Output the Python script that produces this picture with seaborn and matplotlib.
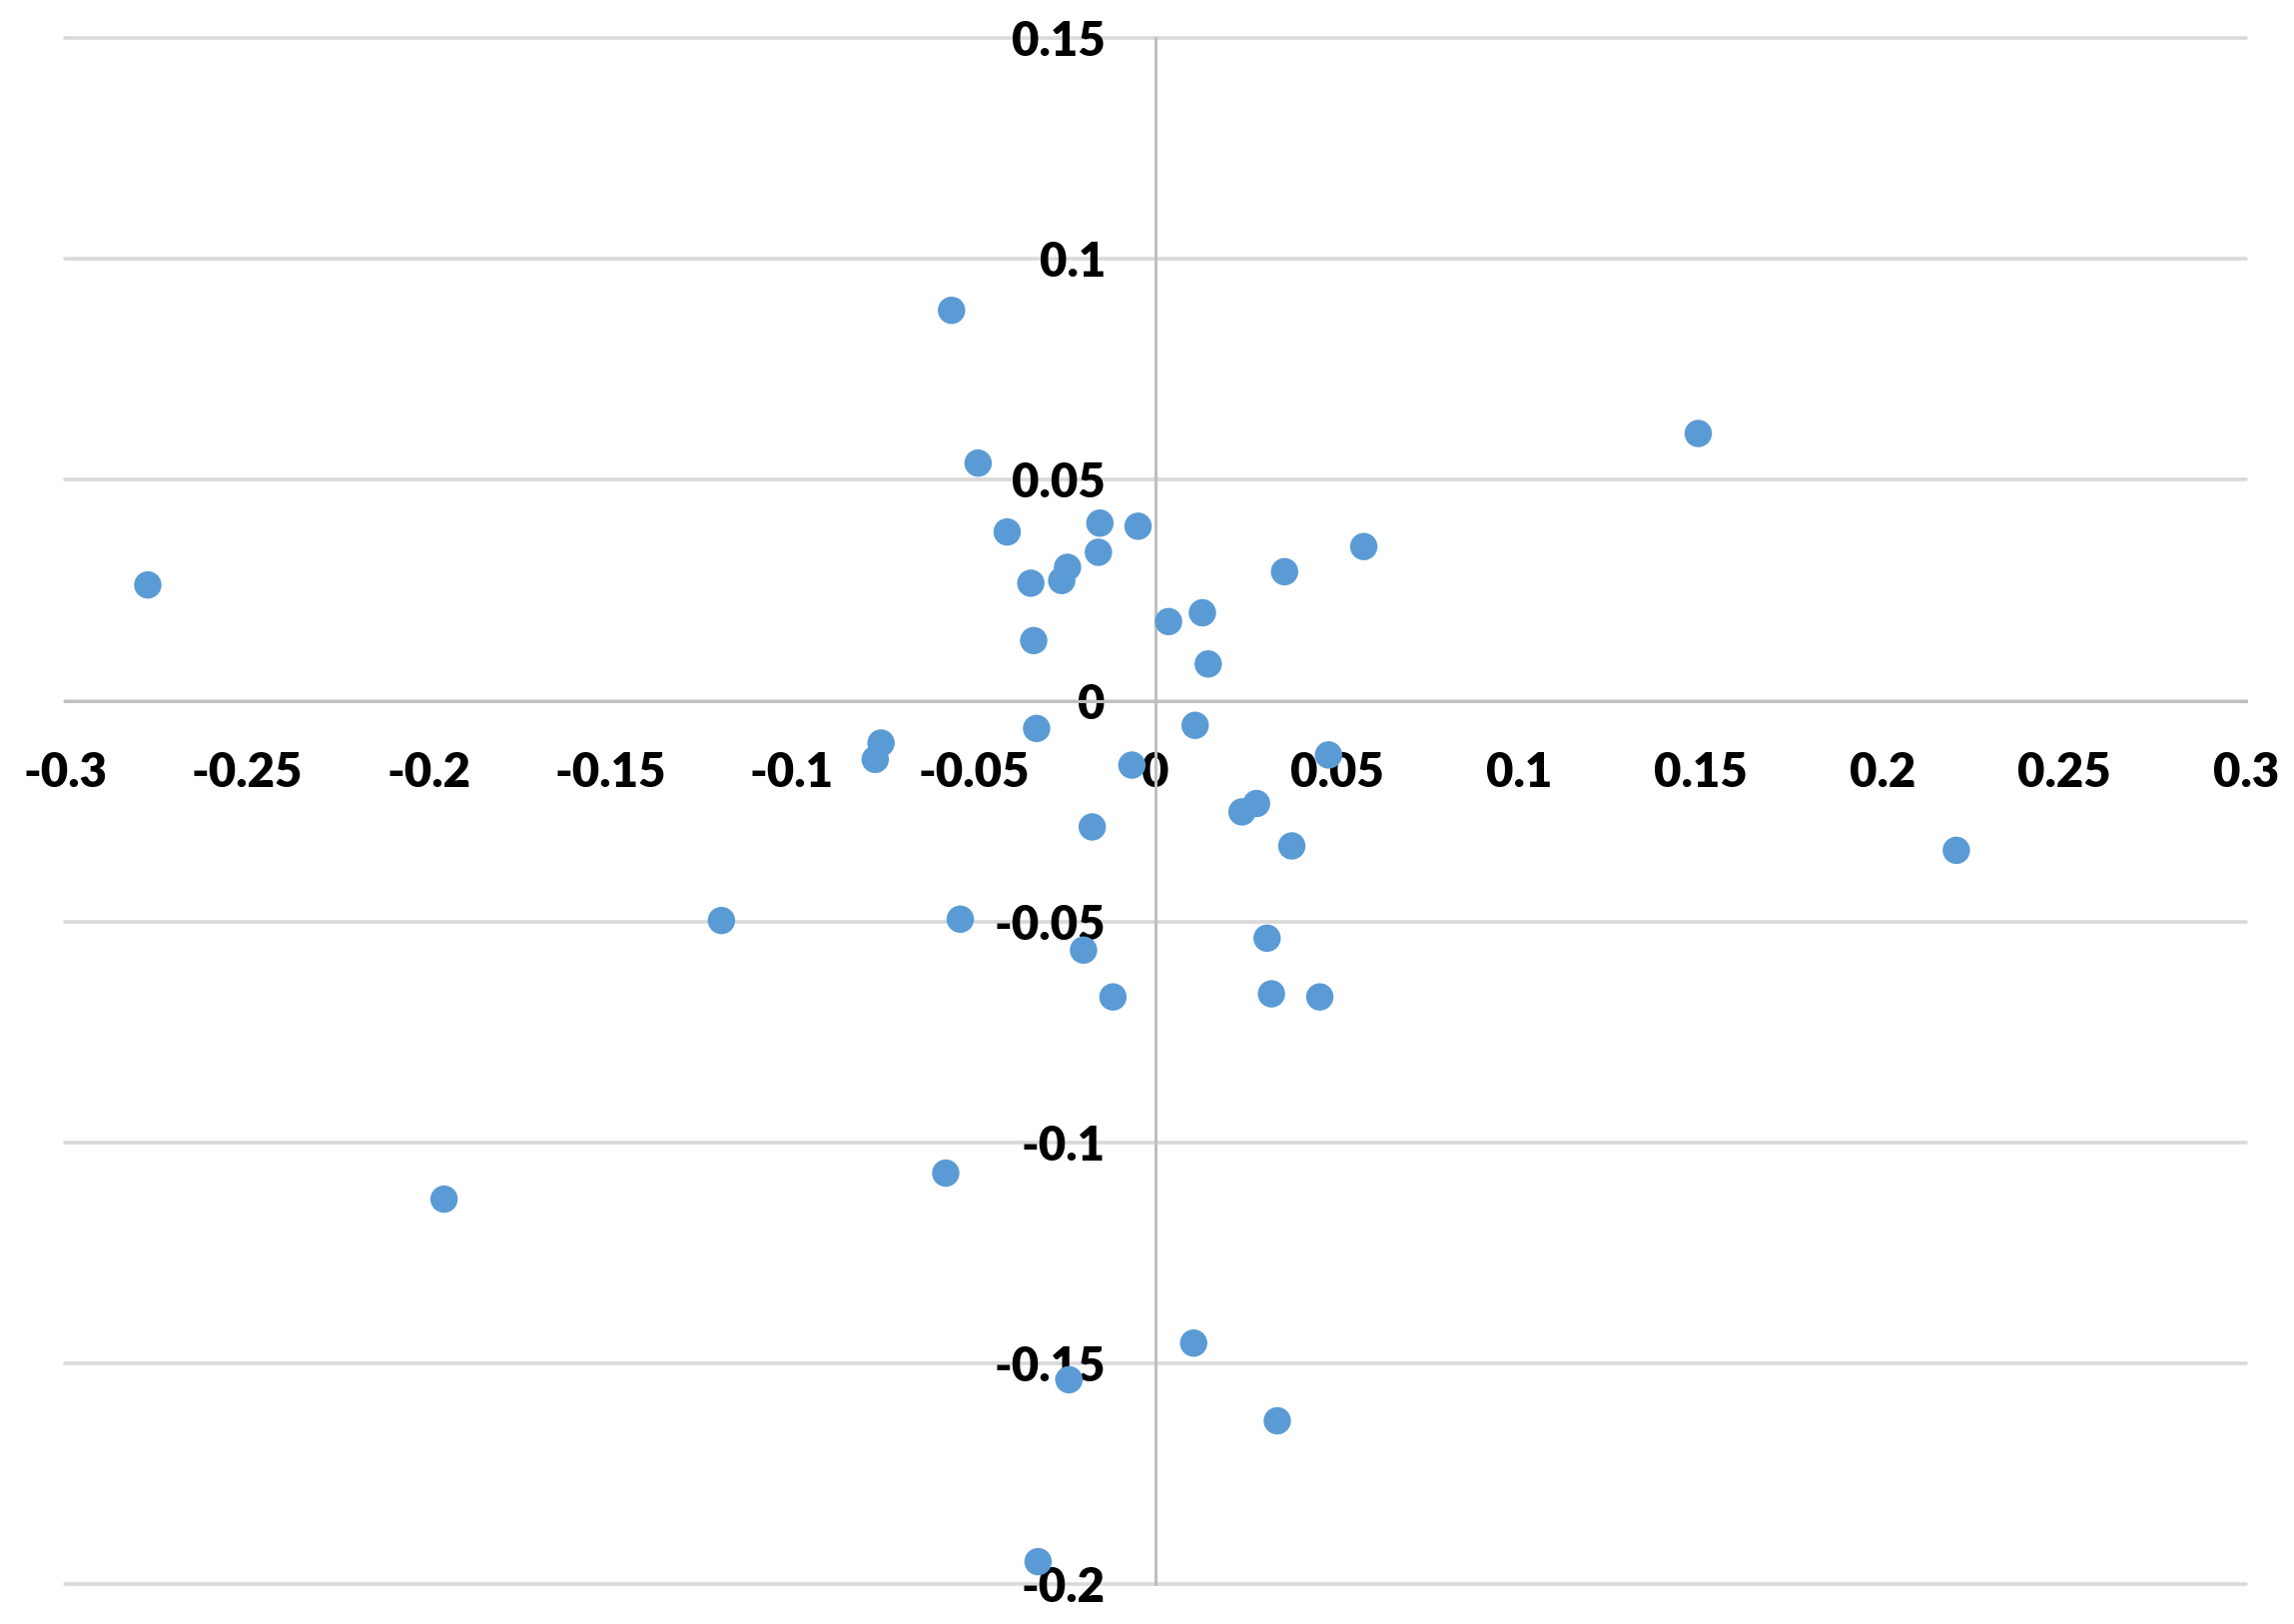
import numpy as np
import matplotlib
matplotlib.use("Agg")
import matplotlib.pyplot as plt
import seaborn as sns
import pandas as pd

# values
x_vals = [-0.2772, -0.0561, -0.0488, -0.0408, -0.0153, -0.0048, -0.0343, -0.0242,
          -0.0258, -0.0157, -0.0335, 0.0036, 0.0129, 0.0145, 0.0355, 0.0573,
          0.1493, -0.0327, 0.0109, -0.0755, -0.0771, -0.0065, 0.0476, 0.0238,
          0.0278, -0.0174, 0.0375, 0.2203, -0.1194, -0.0537, -0.0198, 0.0307,
          -0.0117, 0.0319, 0.0452, -0.0577, -0.1957, 0.0105, -0.0238, 0.0335,
          -0.0323]
y_vals = [0.0262, 0.0884, 0.0538, 0.0382, 0.0402, 0.0395, 0.0266, 0.0302,
          0.0272, 0.0336, 0.0136, 0.0179, 0.0199, 0.0083, 0.0292, 0.0349,
          0.0605, -0.0063, -0.0056, -0.0096, -0.0133, -0.0146, -0.0123, -0.0252,
          -0.0233, -0.0286, -0.0329, -0.0339, -0.0498, -0.0495, -0.0565, -0.0538,
          -0.0671, -0.0664, -0.0671, -0.1070, -0.1129, -0.1455, -0.1538, -0.1631,
          -0.1950]

x_ticks = [-0.3, -0.25, -0.2, -0.15, -0.1, -0.05, 0, 0.05, 0.1, 0.15, 0.2, 0.25, 0.3]
x_tick_labels = ["-0.3", "-0.25", "-0.2", "-0.15", "-0.1", "-0.05", "0",
                 "0.05", "0.1", "0.15", "0.2", "0.25", "0.3"]
y_ticks = [-0.2, -0.15, -0.1, -0.05, 0, 0.05, 0.1, 0.15]
y_tick_labels = ["-0.2", "-0.15", "-0.1", "-0.05", "0", "0.05", "0.1", "0.15"]

df = pd.DataFrame({"x": x_vals, "y": y_vals})

sns.set_style("white")
plt.rcParams["font.family"] = ["Lato", "DejaVu Sans"]

fig = plt.figure(figsize=(22.97, 16.26), dpi=100)
ax = fig.add_axes([0.0283, 0.0248, 0.9508, 0.9516])

sns.scatterplot(data=df, x="x", y="y", ax=ax, color="#5B9BD5", s=390,
                edgecolor="none", linewidth=0, zorder=3)

ax.set_xlim(-0.3, 0.3)
ax.set_ylim(-0.2, 0.15)
ax.set_xlabel("")
ax.set_ylabel("")

# axes cross at the origin, Excel style
for side in ["top", "right"]:
    ax.spines[side].set_visible(False)
ax.spines["left"].set_position(("data", 0))
ax.spines["bottom"].set_position(("data", 0))
for side in ["left", "bottom"]:
    ax.spines[side].set_color("#BFBFBF")
    ax.spines[side].set_linewidth(2.2)
    ax.spines[side].set_zorder(2)

ax.set_xticks(x_ticks)
ax.set_xticklabels(x_tick_labels)
ax.set_yticks(y_ticks)
ax.set_yticklabels(y_tick_labels)
ax.tick_params(axis="both", length=0, labelsize=34, labelcolor="black")
ax.tick_params(axis="x", pad=36)
ax.tick_params(axis="y", pad=36)
for lab in ax.get_xticklabels() + ax.get_yticklabels():
    lab.set_fontweight("heavy")
    lab.set_zorder(5)

ax.yaxis.grid(True, color="#D9D9D9", linewidth=2.6)
ax.xaxis.grid(False)
ax.set_axisbelow(True)
for line in ax.get_ygridlines():
    line.set_clip_on(False)

fig.savefig("out.png", dpi=100, facecolor="white")
